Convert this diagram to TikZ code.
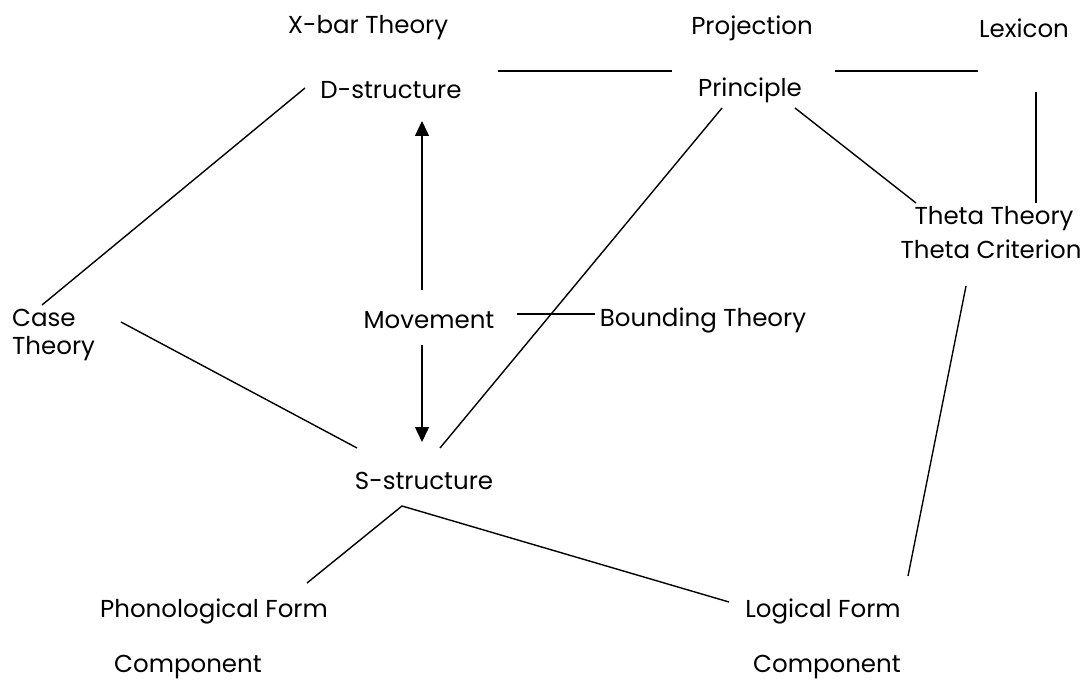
\documentclass[tikz,border=0pt]{standalone}
\usepackage{fontspec}
\setmainfont{Poppins}
\usetikzlibrary{arrows.meta}
\begin{document}
\begin{tikzpicture}[x=1pt,y=-1pt,
  lbl/.style={inner sep=0pt,font=\fontsize{24.5}{28}\selectfont},
  con/.style={line width=1.4pt},
  arr/.style={line width=1.4pt,-{Triangle[length=15pt,width=14pt]}}]
\useasboundingbox[fill=white] (0,0) rectangle (1086,692);
% labels
\node[lbl] (xbar) at (368,28) {X-bar Theory};
\node[lbl] (proj) at (752,28) {Projection};
\node[lbl] (lex) at (1024,28) {Lexicon};
\node[lbl] (dstr) at (391,90) {D-structure};
\node[lbl] (princ) at (750,90) {Principle};
\node[lbl] (tt) at (994,219) {Theta Theory};
\node[lbl] (tc) at (991,249) {Theta Criterion};
\node[lbl,anchor=west] (case) at (12,318) {Case};
\node[lbl,anchor=west] (caseth) at (12,349) {Theory};
\node[lbl] (mov) at (429,320) {Movement};
\node[lbl] (bound) at (703,320) {Bounding Theory};
\node[lbl] (sstr) at (424,481) {S-structure};
\node[lbl] (pf) at (214,611) {Phonological Form};
\node[lbl] (pfc) at (188,667) {Component};
\node[lbl] (lf) at (823,611) {Logical Form};
\node[lbl] (lfc) at (827,667) {Component};
% endpoints
\coordinate (a1) at (498,71); \coordinate (a2) at (672,71);
\coordinate (b1) at (835,71); \coordinate (b2) at (978,71);
\coordinate (c1) at (1036,92); \coordinate (c2) at (1036,203);
\coordinate (d1) at (305,88); \coordinate (d2) at (42,305);
\coordinate (e1) at (722,108); \coordinate (e2) at (440,448);
\coordinate (f1) at (795,108); \coordinate (f2) at (916,203);
\coordinate (g1) at (966,286); \coordinate (g2) at (908,576);
\coordinate (h1) at (517,314); \coordinate (h2) at (595,314);
\coordinate (i1) at (121,322); \coordinate (i2) at (357,448);
\coordinate (s0) at (402,506);
\coordinate (pfe) at (307,583); \coordinate (lfe) at (729,602);
\coordinate (m1) at (422,290); \coordinate (m2) at (422,121);
\coordinate (m3) at (422,345); \coordinate (m4) at (422,442);
% connectors
\draw[con] (a1) -- (a2);
\draw[con] (b1) -- (b2);
\draw[con] (c1) -- (c2);
\draw[con] (d1) -- (d2);
\draw[con] (e1) -- (e2);
\draw[con] (f1) -- (f2);
\draw[con] (g1) -- (g2);
\draw[con] (h1) -- (h2);
\draw[con] (i1) -- (i2);
\draw[con] (pfe) -- (s0) -- (lfe);
\draw[arr] (m1) -- (m2);
\draw[arr] (m3) -- (m4);
\end{tikzpicture}
\end{document}
